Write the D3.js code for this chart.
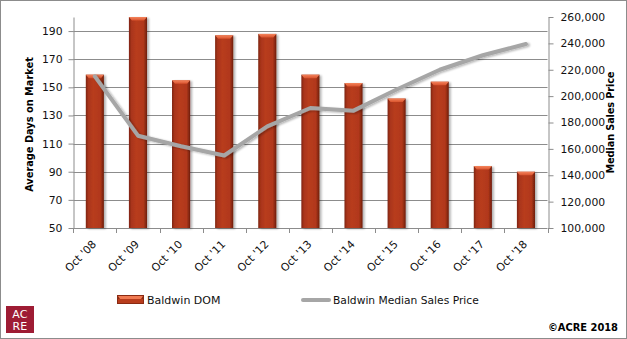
<!DOCTYPE html>
<html>
<head>
<meta charset="utf-8">
<script src="https://cdnjs.cloudflare.com/ajax/libs/d3/7.8.5/d3.min.js"></script>
<style>
html,body{margin:0;padding:0;background:#fff;}
svg{display:block;}
text{font-family:"DejaVu Sans",Verdana,sans-serif;}
</style>
</head>
<body>
<svg id="chart" width="627" height="339"></svg>
<script>
const categories = ["Oct '08","Oct '09","Oct '10","Oct '11","Oct '12","Oct '13","Oct '14","Oct '15","Oct '16","Oct '17","Oct '18"];
const domValues = [159, 200, 155, 187, 188, 159, 153, 142, 154, 94, 90];
const priceValues = [215000, 170000, 162000, 155000, 177000, 191000, 189000, 205000, 220000, 231000, 239500];
const leftTicks = [50, 70, 90, 110, 130, 150, 170, 190];
const rightTicks = [100000, 120000, 140000, 160000, 180000, 200000, 220000, 240000, 260000];

const svg = d3.select("#chart");
const W = 627, H = 339;
const plot = {left: 73.3, right: 547.5, top: 17, bottom: 228};

const defs = svg.append("defs");
const barGrad = defs.append("linearGradient").attr("id","barGrad").attr("x1","0").attr("x2","1").attr("y1","0").attr("y2","0");
[["0%","#7d2410"],["14%","#a9351a"],["40%","#b83c1c"],["80%","#b1381a"],["100%","#6e1e0c"]].forEach(s=>barGrad.append("stop").attr("offset",s[0]).attr("stop-color",s[1]));
const capGrad = defs.append("linearGradient").attr("id","capGrad").attr("x1","0").attr("x2","0").attr("y1","0").attr("y2","1");
[["0%","#f4845c"],["100%","#d9532e"]].forEach(s=>capGrad.append("stop").attr("offset",s[0]).attr("stop-color",s[1]));
const shadow = defs.append("filter").attr("id","shadow").attr("x","-20%").attr("y","-20%").attr("width","160%").attr("height","160%");
shadow.append("feGaussianBlur").attr("in","SourceAlpha").attr("stdDeviation","1.2");
shadow.append("feOffset").attr("dx","2").attr("dy","1").attr("result","ob");
shadow.append("feComponentTransfer").append("feFuncA").attr("type","linear").attr("slope","0.3");
const m = shadow.append("feMerge"); m.append("feMergeNode"); m.append("feMergeNode").attr("in","SourceGraphic");

// outer border
svg.append("rect").attr("x",0.5).attr("y",0.5).attr("width",W-1).attr("height",H-1)
  .attr("fill","#fff").attr("stroke","#8c8c8c").attr("stroke-width",1);

const x = d3.scaleBand().domain(categories).range([plot.left, plot.right]).paddingInner(0.58).paddingOuter(0.29);
const yL = d3.scaleLinear().domain([50, 200]).range([plot.bottom, plot.top]);
const yR = d3.scaleLinear().domain([100000, 260000]).range([plot.bottom, plot.top]);

// gridlines
svg.append("g").selectAll("line").data(leftTicks.slice(1)).join("line")
  .attr("x1",plot.left).attr("x2",plot.right)
  .attr("y1",d=>Math.round(yL(d))+0.5).attr("y2",d=>Math.round(yL(d))+0.5)
  .attr("stroke","#8c8c8c").attr("stroke-width",1);

// left axis
const gL = svg.append("g").attr("transform",`translate(${Math.round(plot.left)+0.5},0)`)
  .call(d3.axisLeft(yL).tickValues(leftTicks).tickSize(5).tickSizeOuter(0).tickPadding(6));
// right axis
const gR = svg.append("g").attr("transform",`translate(${Math.round(plot.right)+0.5},0)`)
  .call(d3.axisRight(yR).tickValues(rightTicks).tickSize(5).tickSizeOuter(0).tickPadding(7).tickFormat(d3.format(",")));
[gL,gR].forEach(g=>{
  g.select(".domain").attr("stroke","#8c8c8c");
  g.selectAll(".tick line").attr("stroke","#8c8c8c");
  g.selectAll(".tick text").attr("fill","#111").style("font-size","10.8px").style("font-family","'DejaVu Sans',Verdana,sans-serif");
});

// bottom axis line + ticks at band boundaries
const step = x.step();
const bounds = d3.range(categories.length+1).map(i=>plot.left + i*step);
svg.append("line").attr("x1",plot.left).attr("x2",plot.right)
  .attr("y1",plot.bottom+0.5).attr("y2",plot.bottom+0.5).attr("stroke","#8c8c8c");
svg.append("g").selectAll("line").data(bounds).join("line")
  .attr("x1",d=>Math.round(d)+0.5).attr("x2",d=>Math.round(d)+0.5)
  .attr("y1",plot.bottom).attr("y2",plot.bottom+5).attr("stroke","#8c8c8c");

// x labels
svg.append("g").selectAll("text").data(categories).join("text")
  .attr("transform",d=>`translate(${x(d)+x.bandwidth()/2+2},${plot.bottom+17}) rotate(-45)`)
  .attr("text-anchor","end")
  .style("font-size","10.8px").attr("fill","#111")
  .text(d=>d);

// bars
const bars = svg.append("g").attr("filter","url(#shadow)");
categories.forEach((c,i)=>{
  const v = domValues[i];
  const bx = x(c), bw = x.bandwidth(), top = yL(v);
  bars.append("rect").attr("x",bx).attr("y",top).attr("width",bw).attr("height",plot.bottom-top)
    .attr("fill","url(#barGrad)");
  const ch = 3.5;
  bars.append("path")
    .attr("d",`M${bx},${top} L${bx+bw},${top} L${bx+bw-3},${top+ch} L${bx+3},${top+ch} Z`)
    .attr("fill","url(#capGrad)");
});

// line
const line = d3.line().x((d,i)=>x(categories[i])+x.bandwidth()/2).y(d=>yR(d));
svg.append("path").datum(priceValues).attr("d",line)
  .attr("fill","none").attr("stroke","#a6a6a6").attr("stroke-width",4)
  .attr("stroke-linejoin","round").attr("stroke-linecap","round").attr("filter","url(#shadow)");

// axis titles
svg.append("text").attr("transform",`translate(33,${(plot.top+plot.bottom)/2+2}) rotate(-90)`)
  .attr("text-anchor","middle").style("font-size","9.8px").style("font-weight","bold").attr("fill","#000")
  .text("Average Days on Market");
svg.append("text").attr("transform",`translate(614,${(plot.top+plot.bottom)/2}) rotate(-90)`)
  .attr("text-anchor","middle").style("font-size","9.8px").style("font-weight","bold").attr("fill","#000")
  .attr("textLength",102).attr("lengthAdjust","spacing")
  .text("Median Sales Price");

// legend
const lg = svg.append("g");
lg.append("rect").attr("x",117).attr("y",295).attr("width",27).attr("height",9).attr("fill","#8a2a12");
lg.append("path").attr("d","M118,296 L143,296 L141,299 L120,299 Z").attr("fill","#f07a52");
lg.append("rect").attr("x",118).attr("y",299).attr("width",25).attr("height",4).attr("fill","#b83c1c");
lg.append("text").attr("x",147).attr("y",303.5).style("font-size","11px").attr("fill","#111").text("Baldwin DOM");
lg.append("line").attr("x1",303).attr("x2",329).attr("y1",300).attr("y2",300)
  .attr("stroke","#a6a6a6").attr("stroke-width",4).attr("stroke-linecap","round");
lg.append("text").attr("x",333).attr("y",303.5).style("font-size","10.7px").attr("fill","#111").text("Baldwin Median Sales Price");

// copyright
svg.append("text").attr("x",618).attr("y",331).attr("text-anchor","end")
  .style("font-size","9.9px").style("font-weight","bold").attr("fill","#000").text("©ACRE 2018");

// logo
const logo = svg.append("g");
logo.append("rect").attr("x",6).attr("y",306).attr("width",28).attr("height",27).attr("fill","#9e1c34");
logo.append("text").attr("x",20).attr("y",317.5).attr("text-anchor","middle").attr("fill","#fff")
  .style("font-size","11px").style("letter-spacing","0.3px").text("AC");
logo.append("text").attr("x",20).attr("y",329.5).attr("text-anchor","middle").attr("fill","#fff")
  .style("font-size","11px").style("letter-spacing","0.3px").text("RE");
</script>
</body>
</html>
